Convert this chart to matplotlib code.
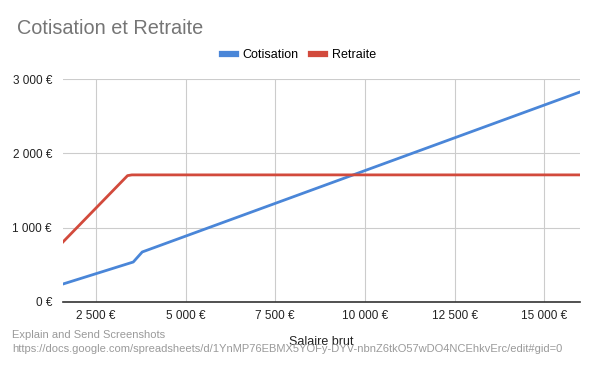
import matplotlib.pyplot as plt
from matplotlib.ticker import FuncFormatter

plt.rcParams['font.family'] = ['Liberation Sans', 'DejaVu Sans']

# salaire brut -> montants
salaire_cot = [1580, 3540, 3790, 16000]
cotisation = [242, 538, 673, 2825]

salaire_ret = [1580, 3380, 3500, 16000]
retraite = [808, 1700, 1710, 1710]

x_ticks = [2500, 5000, 7500, 10000, 12500, 15000]
y_ticks = [0, 1000, 2000, 3000]


def euro(v, pos=None):
    return "{:,.0f} €".format(v).replace(",", " ")


fig = plt.figure(figsize=(5.95, 3.67), dpi=100)
ax = fig.add_axes([63 / 595, 1 - 302 / 367, (580 - 63) / 595, (302 - 79) / 367])

ax.plot(salaire_cot, cotisation, color="#4a86d8", lw=2, label="Cotisation")
ax.plot(salaire_ret, retraite, color="#d24a3c", lw=2, label="Retraite")

ax.set_xlim(1580, 16000)
ax.set_ylim(0, 3000)
ax.set_xticks(x_ticks)
ax.set_yticks(y_ticks)
ax.xaxis.set_major_formatter(FuncFormatter(euro))
ax.yaxis.set_major_formatter(FuncFormatter(euro))
ax.tick_params(length=0, labelsize=8.5, colors="#222222")
ax.tick_params(axis="x", pad=6)
ax.tick_params(axis="y", pad=8)
ax.grid(True, color="#cccccc", lw=0.8)
ax.set_axisbelow(True)
for s in ["top", "right", "left"]:
    ax.spines[s].set_visible(False)
ax.spines["bottom"].set_color("#333333")
ax.spines["bottom"].set_linewidth(1.2)

ax.set_xlabel("Salaire brut", fontsize=9, color="#222222", labelpad=10)

fig.text(17 / 595, 1 - 28 / 367, "Cotisation et Retraite", fontsize=14.3,
         color="#757575", va="center", ha="left")
leg = fig.legend(loc="center", bbox_to_anchor=(299 / 595, 1 - 55 / 367), ncol=2,
                 frameon=False, fontsize=9, handlelength=1.1, columnspacing=1.0,
                 handletextpad=0.55)
for line in leg.get_lines():
    line.set_linewidth(4.5)

fig.text(12 / 595, 1 - 335 / 367, "Explain and Send Screenshots", fontsize=8,
         color="#9a9a9a", va="center", ha="left")
fig.text(12 / 595, 1 - 349 / 367,
         "https://docs.google.com/spreadsheets/d/1YnMP76EBMX5YOFy-DYV-nbnZ6tkO57wDO4NCEhkvErc/edit#gid=0",
         fontsize=8, color="#9a9a9a", va="center", ha="left")

fig.savefig("out.png", dpi=100)
